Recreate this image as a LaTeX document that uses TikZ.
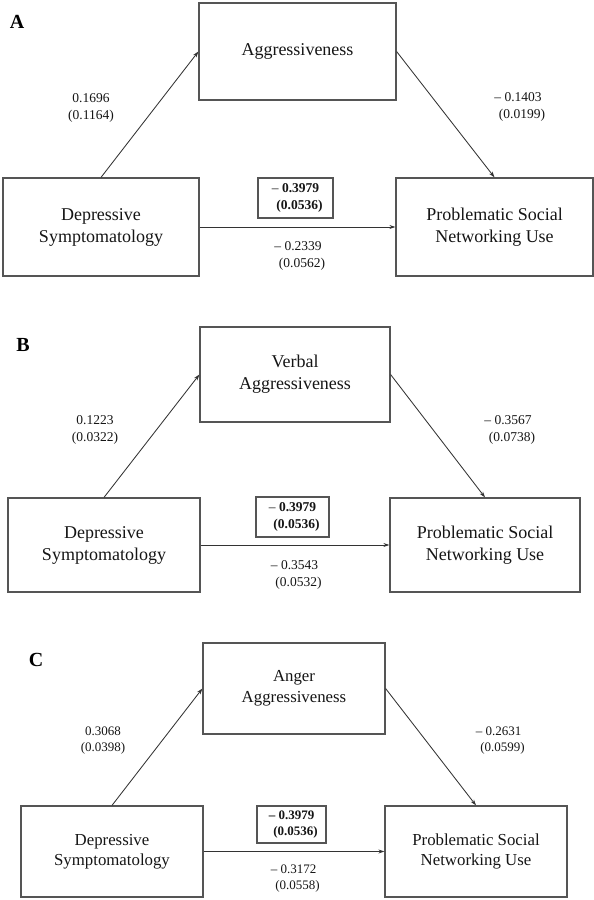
\documentclass[tikz,border=0pt]{standalone}
\usepackage{fontspec}
\setmainfont{Liberation Serif}
\usetikzlibrary{arrows.meta}
\definecolor{boxgray}{HTML}{555555}
\definecolor{linegray}{HTML}{333333}
\definecolor{inkgray}{HTML}{151515}
\tikzset{
  varbox/.style={draw=boxgray, line width=1.2pt, align=center, inner sep=0pt,
    text=inkgray, font=\fontsize{18}{22}\selectfont},
  totbox/.style={draw=boxgray, line width=1.1pt, align=center, inner sep=0pt,
    text=inkgray, font=\fontsize{13.5}{17}\selectfont},
  coef/.style={align=center, text=inkgray, font=\fontsize{13.5}{17}\selectfont},
  letter/.style={text=black, font=\fontsize{20}{24}\selectfont\bfseries},
  path/.style={draw=linegray, line width=0.85pt, -{Stealth[length=6pt,width=4pt]}}
}
\newcommand{\shiftln}{\hspace*{8pt}}
\begin{document}
\begin{tikzpicture}[x=1pt, y=-1pt]
    \useasboundingbox (0,0) rectangle (594,900);

    % panel A
    \node[letter] (labA) at (17,22) {A};
    \node[varbox, minimum width=197pt, minimum height=97pt] (aggA) at (297.5,51.5) {Aggressiveness};
    \node[varbox, minimum width=196pt, minimum height=98pt] (depA) at (101,227) {Depressive\\Symptomatology};
    \node[varbox, minimum width=197pt, minimum height=98pt] (useA) at (494.5,227) {Problematic Social\\Networking Use};
    \node[totbox, minimum width=75pt, minimum height=40pt] (totA) at (295.5,198) {– \textbf{0.3979}\\\shiftln\textbf{(0.0536)}};
    \node[coef] (aA) at (91,107.5) {0.1696\\(0.1164)};
    \node[coef] (bA) at (518,107) {– 0.1403\\\shiftln(0.0199)};
    \node[coef] (cA) at (298,256) {– 0.2339\\\shiftln(0.0562)};
    \draw[path] (depA.north) -- (aggA.west);
    \draw[path] (aggA.east) -- (useA.north);
    \draw[path] (depA.east) -- (useA.west);

    % panel B
    \node[letter] (labB) at (23,345) {B};
    \node[varbox, minimum width=190pt, minimum height=95pt] (aggB) at (295,374.5) {Verbal\\Aggressiveness};
    \node[varbox, minimum width=192pt, minimum height=94pt] (depB) at (104,545) {Depressive\\Symptomatology};
    \node[varbox, minimum width=190pt, minimum height=94pt] (useB) at (485,545) {Problematic Social\\Networking Use};
    \node[totbox, minimum width=73pt, minimum height=40pt] (totB) at (292.5,517) {– \textbf{0.3979}\\\shiftln\textbf{(0.0536)}};
    \node[coef] (aB) at (95,429.5) {0.1223\\(0.0322)};
    \node[coef] (bB) at (508,429.5) {– 0.3567\\\shiftln(0.0738)};
    \node[coef] (cB) at (294.5,574.5) {– 0.3543\\\shiftln(0.0532)};
    \draw[path] (depB.north) -- (aggB.west);
    \draw[path] (aggB.east) -- (useB.north);
    \draw[path] (depB.east) -- (useB.west);

    % panel C
    \begin{scope}[varbox/.append style={font=\fontsize{16.8}{20.5}\selectfont},
                  coef/.append style={font=\fontsize{13}{16}\selectfont},
                  totbox/.append style={font=\fontsize{13}{16}\selectfont}]
    \node[letter] (labC) at (36,660) {C};
    \node[varbox, minimum width=182pt, minimum height=91pt] (aggC) at (294,688.5) {Anger\\Aggressiveness};
    \node[varbox, minimum width=182pt, minimum height=91pt] (depC) at (112,851.5) {Depressive\\Symptomatology};
    \node[varbox, minimum width=182pt, minimum height=91pt] (useC) at (476,851.5) {Problematic Social\\Networking Use};
    \node[totbox, minimum width=69pt, minimum height=37pt] (totC) at (291.5,824.5) {\textbf{– 0.3979}\\\shiftln\textbf{(0.0536)}};
    \node[coef] (aC) at (103,741) {0.3068\\(0.0398)};
    \node[coef] (bC) at (498.5,741) {– 0.2631\\\shiftln(0.0599)};
    \node[coef] (cC) at (293.5,879) {– 0.3172\\\shiftln(0.0558)};
    \draw[path] (depC.north) -- (aggC.west);
    \draw[path] (aggC.east) -- (useC.north);
    \draw[path] (depC.east) -- (useC.west);
    \end{scope}
\end{tikzpicture}
\end{document}
